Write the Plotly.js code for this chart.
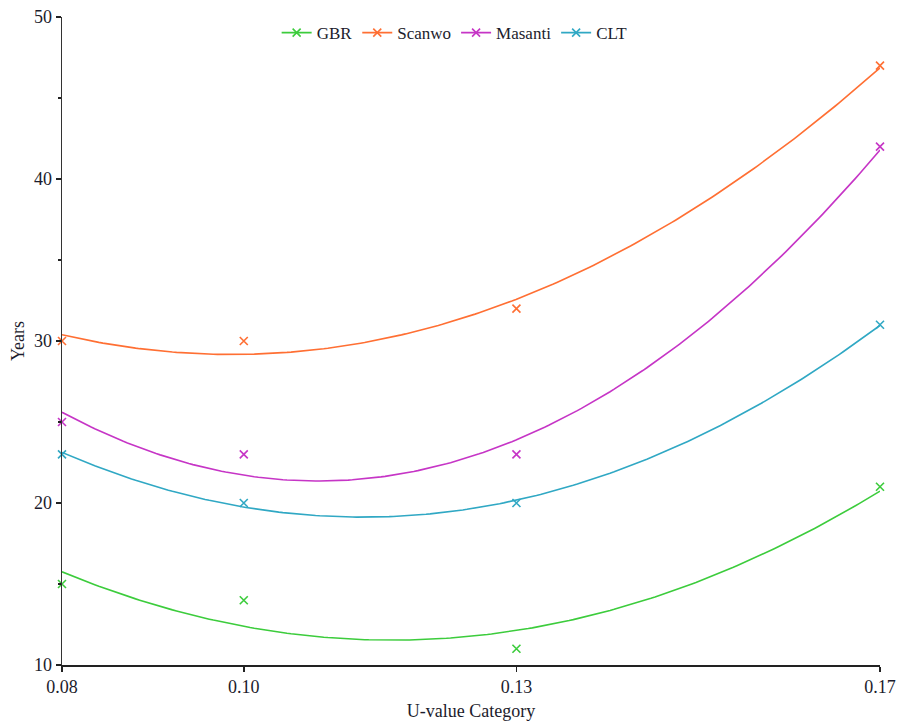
<!DOCTYPE html>
<html>
<head>
<meta charset="utf-8">
<script src="https://cdn.plot.ly/plotly-3.0.1.min.js"></script>
<style>html,body{margin:0;padding:0;background:#fff;}#chart{width:901px;height:726px;}</style>
</head>
<body>
<div id="chart"></div>
<script>
// Data
const uValues = [0.08, 0.10, 0.13, 0.17];
const tickLabels = ["0.08", "0.10", "0.13", "0.17"];
const seriesNames = ["GBR", "Scanwo", "Masanti", "CLT"];
const gbr = [15, 14, 11, 21];
const scanwo = [30, 30, 32, 47];
const masanti = [25, 23, 23, 42];
const clt = [23, 20, 20, 31];
const seriesColors = ["#3ccc3c", "#ff6f33", "#c635c6", "#30a8c4"];

// Least-squares quadratic trendline derived from the data points
function quadFit(xs, ys) {
  const m = xs.reduce((a, b) => a + b, 0) / xs.length;
  const t = xs.map(x => x - m);
  const S = k => t.reduce((a, v) => a + Math.pow(v, k), 0);
  const Sy = k => t.reduce((a, v, i) => a + Math.pow(v, k) * ys[i], 0);
  const A = [[xs.length, S(1), S(2)], [S(1), S(2), S(3)], [S(2), S(3), S(4)]];
  const B = [Sy(0), Sy(1), Sy(2)];
  for (let i = 0; i < 3; i++) {
    for (let j = i + 1; j < 3; j++) {
      const f = A[j][i] / A[i][i];
      for (let k = i; k < 3; k++) A[j][k] -= f * A[i][k];
      B[j] -= f * B[i];
    }
  }
  const c = [0, 0, 0];
  for (let i = 2; i >= 0; i--) {
    let s = B[i];
    for (let k = i + 1; k < 3; k++) s -= A[i][k] * c[k];
    c[i] = s / A[i][i];
  }
  const x0 = Math.min(...xs), x1 = Math.max(...xs);
  const fx = [], fy = [];
  for (let i = 0; i <= 200; i++) {
    const x = x0 + (x1 - x0) * i / 200;
    const d = x - m;
    fx.push(x);
    fy.push(c[0] + c[1] * d + c[2] * d * d);
  }
  return {fx, fy};
}

const allSeries = [gbr, scanwo, masanti, clt];
const traces = [];
allSeries.forEach((ys, i) => {
  const col = seriesColors[i];
  const fit = quadFit(uValues, ys);
  traces.push({
    x: fit.fx, y: fit.fy, type: "scatter", mode: "lines",
    line: {color: col, width: 1.6}, showlegend: false, hoverinfo: "skip",
    legendgroup: seriesNames[i], cliponaxis: false
  });
  traces.push({
    x: uValues, y: ys, type: "scatter", mode: "markers",
    marker: {symbol: "x-thin", size: 8, line: {color: col, width: 1.6}, color: col},
    showlegend: false, legendgroup: seriesNames[i], cliponaxis: false
  });
  traces.push({
    x: [null], y: [null], type: "scatter", mode: "lines+markers", name: seriesNames[i],
    line: {color: col, width: 1.6},
    marker: {symbol: "x-thin", size: 8, line: {color: col, width: 1.6}, color: col},
    legendgroup: seriesNames[i]
  });
});

const serif = "Liberation Serif, Times New Roman, serif";
const tickFont = {family: serif, size: 18, color: "#1c1c2c"};
const layout = {
  width: 901, height: 726,
  paper_bgcolor: "#ffffff", plot_bgcolor: "#ffffff",
  margin: {l: 62, r: 21, t: 17, b: 61},
  showlegend: true,
  legend: {
    orientation: "h", x: 0.48, xanchor: "center", y: 1.003, yanchor: "top",
    font: {family: serif, size: 17, color: "#1c1c2c"},
    itemwidth: 30, bgcolor: "rgba(0,0,0,0)", tracegroupgap: 0
  },
  xaxis: {
    range: [0.08, 0.17], tickvals: uValues, ticktext: tickLabels,
    showgrid: false, zeroline: false, showline: true, linecolor: "#222", linewidth: 1.5,
    ticks: "outside", ticklen: 5, tickcolor: "#222", tickwidth: 1.5,
    tickfont: tickFont,
    title: {text: "U-value Category", font: {family: serif, size: 18, color: "#1c1c2c"}, standoff: 8}
  },
  yaxis: {
    range: [10, 50], dtick: 10, tick0: 10,
    showgrid: false, zeroline: false, showline: true, linecolor: "#333", linewidth: 1.5,
    ticks: "outside", ticklen: 5, tickcolor: "#222", tickwidth: 1.5,
    tickfont: tickFont,
    minor: {dtick: 5, ticks: "outside", ticklen: 3, tickcolor: "#222", tickwidth: 1.5, showgrid: false},
    title: {text: "Years", font: {family: serif, size: 18, color: "#1c1c2c"}, standoff: 4}
  }
};

Plotly.newPlot("chart", traces, layout, {displayModeBar: false, staticPlot: true});
</script>
</body>
</html>
